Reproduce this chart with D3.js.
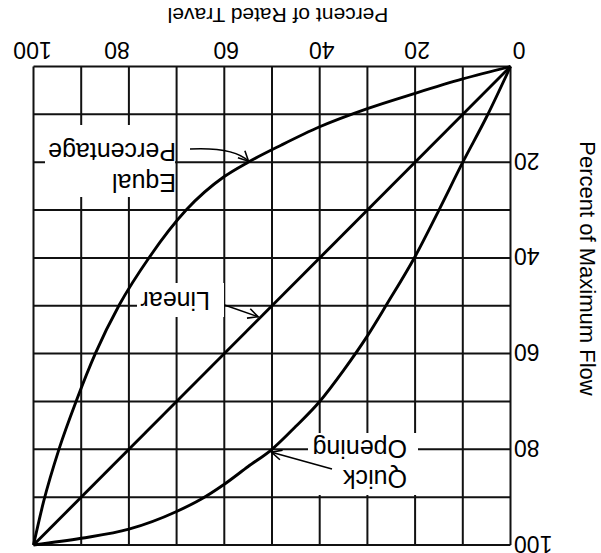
<!DOCTYPE html>
<html><head><meta charset="utf-8">
<script src="https://cdn.jsdelivr.net/npm/d3@7"></script>
<style>html,body{margin:0;padding:0;background:#fff;} svg{display:block;font-family:"Liberation Sans",Arial,Helvetica,sans-serif;}</style>
</head><body><svg id="c" width="601" height="553"></svg>
<script>
// ---- data (values in percent) ----
const gridTicks = [0,10,20,30,40,50,60,70,80,90,100];
const travelLabels = [20,40,60,80,100];
const flowLabels = [20,40,60,80,100];
const originLabel = "0";
const xTitle = "Percent of Rated Travel";
const yTitle = "Percent of Maximum Flow";

const linearTravel = [0,100];
const linearFlow   = [0,100];

const eqTravel = [0,10,20,30,40,48,55,60,68,75.6,82,87,91,94.6,97.9,100];
const eqFlow   = [0,2.6,5.6,8.8,12.6,16.4,20,23,30,39.7,49.8,59.9,69.8,79.8,91,100];

const qoTravel = [0,5,10,15,20,26,30,35,40,45,50,55,60,65,70,80,90,100];
const qoFlow   = [0,10.5,20,30,39.7,49.8,56.3,63.5,70,75.2,80,83.6,87.3,90.5,93,96.7,98.6,100];

const annEq = {lines:["Equal","Percentage"], travel:54.6, flow:19.9};
const annLin = {lines:["Linear"], travel:52.5, flow:52.5};
const annQo = {lines:["Quick","Opening"], travel:50.5, flow:80.2};

// ---- drawing ----
const W=601,H=553;
const svg=d3.select("#c");
svg.append("rect").attr("width",W).attr("height",H).attr("fill","#fff");
// the whole figure is shown rotated by 180 degrees
const g=svg.append("g").attr("transform",`rotate(180 ${W/2} ${H/2})`);

const x=d3.scaleLinear().domain([0,100]).range([90.5,567.5]);
const y=d3.scaleLinear().domain([0,100]).range([486.5,8]);
const ink="#111";

// grid
const grid=g.append("g").attr("stroke",ink).attr("stroke-width",2).attr("fill","none");
grid.selectAll("line.v").data(gridTicks).join("line").attr("class","v")
  .attr("x1",d=>x(d)).attr("x2",d=>x(d)).attr("y1",y(0)).attr("y2",y(100));
grid.selectAll("line.h").data(gridTicks).join("line").attr("class","h")
  .attr("y1",d=>y(d)).attr("y2",d=>y(d)).attr("x1",x(0)).attr("x2",x(100));

// curves
const line=d3.line().x(d=>x(d[0])).y(d=>y(d[1])).curve(d3.curveMonotoneX);
const curves=[d3.zip(linearTravel,linearFlow), d3.zip(eqTravel,eqFlow), d3.zip(qoTravel,qoFlow)];
g.append("g").selectAll("path").data(curves).join("path")
  .attr("d",line).attr("fill","none").attr("stroke","#000").attr("stroke-width",2.9)
  .attr("stroke-linejoin","round");

// tick labels
const nudge=d=>d===80?12:(d===100?1:-2);
const tl=g.append("g").attr("font-size",23).attr("fill","#000");
tl.selectAll("text.xt").data(travelLabels).join("text").attr("class","xt")
  .attr("x",d=>x(d)+nudge(d)).attr("y",511).attr("text-anchor","middle").text(d=>d);
tl.selectAll("text.yt").data(flowLabels).join("text").attr("class","yt")
  .attr("x",87).attr("y",d=>y(d)+9.5).attr("text-anchor","end").text(d=>d);
tl.append("text").attr("x",82).attr("y",511).attr("text-anchor","middle").text(originLabel);

// axis titles
g.append("text").attr("x",323).attr("y",545).attr("text-anchor","middle")
  .attr("font-size",21).text(xTitle);
g.append("text").attr("transform",`translate(21,284.5) rotate(-90)`).attr("text-anchor","middle")
  .attr("font-size",22).text(yTitle);

// annotations
const defs=svg.append("defs");
defs.append("marker").attr("id","ah").attr("viewBox","0 0 12 12").attr("refX",11).attr("refY",6)
  .attr("markerWidth",12).attr("markerHeight",12).attr("markerUnits","userSpaceOnUse").attr("orient","auto")
  .append("path").attr("d","M1,1 L11,6 L1,11").attr("fill","none").attr("stroke","#000").attr("stroke-width",1.6);

const ann=g.append("g");
function label(a,box,tx,baselines){
  ann.append("rect").attr("x",box[0]).attr("y",box[1]).attr("width",box[2]).attr("height",box[3]).attr("fill","#fff");
  a.lines.forEach((s,i)=>ann.append("text").attr("x",tx).attr("y",baselines[i]).attr("font-size",25).text(s));
}
label(annEq,[426,356,130,72],425,[379,410]);
label(annLin,[377,236,87,34],391,[261]);
label(annQo,[183,58,110,62],194,[83,113]);

const arrow=ann.append("g").attr("fill","none").attr("stroke","#000").attr("stroke-width",1.6);
const ex=x(annEq.travel)+1.5, ey=y(annEq.flow)+0.5;
arrow.append("path").attr("d",`M411,404 C390,405 365,404 ${ex},${ey}`).attr("marker-end","url(#ah)");
arrow.append("path").attr("d",`M376.5,248 L${x(annLin.travel)+2},${y(annLin.flow)+1}`).attr("marker-end","url(#ah)");
arrow.append("path").attr("d",`M269,84 L${x(annQo.travel)-2},${y(annQo.flow)-2}`).attr("marker-end","url(#ah)");
</script></body></html>
